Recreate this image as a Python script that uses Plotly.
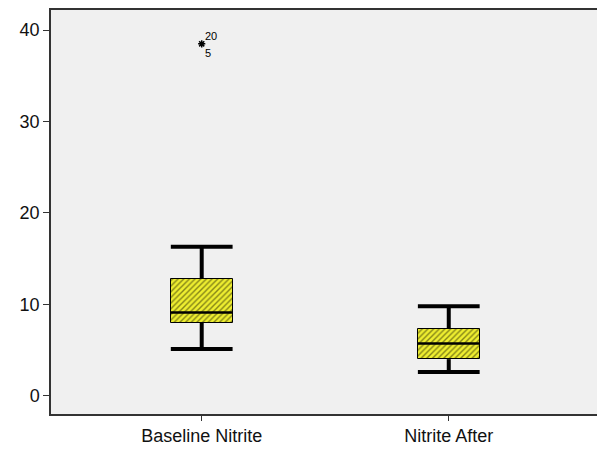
import plotly.graph_objects as go

categories = ["Baseline Nitrite", "Nitrite After"]
lower_whisker = [5.1, 2.6]
q1 = [8.0, 4.0]
median = [9.1, 5.7]
q3 = [12.8, 7.3]
upper_whisker = [16.3, 9.8]
outlier_values = [38.5]
outlier_cat_index = [0]
outlier_labels_above = ["20"]
outlier_labels_below = ["5"]
y_ticks = [0, 10, 20, 30, 40]

xpos = list(range(len(categories)))
box_w = 0.25
half = box_w / 2

fig = go.Figure()

# boxes (hatched)
fig.add_trace(go.Bar(
    x=xpos, base=q1, y=[b - a for a, b in zip(q1, q3)], width=box_w,
    marker=dict(color="#eeee30", line=dict(color="black", width=1),
                pattern=dict(shape="/", fgcolor="#1a1a00", bgcolor="#eeee30",
                             size=4, solidity=0.35)),
    showlegend=False, hoverinfo="skip"))

# whiskers and caps
wx, wy = [], []
for i, x in enumerate(xpos):
    wx += [x, x, None, x, x, None, x - half, x + half, None, x - half, x + half, None]
    wy += [q3[i], upper_whisker[i], None, q1[i], lower_whisker[i], None,
           upper_whisker[i], upper_whisker[i], None, lower_whisker[i], lower_whisker[i], None]
fig.add_trace(go.Scatter(x=wx, y=wy, mode="lines",
                         line=dict(color="black", width=4), showlegend=False, hoverinfo="skip"))

# medians
mx, my = [], []
for i, x in enumerate(xpos):
    mx += [x - half, x + half, None]
    my += [median[i], median[i], None]
fig.add_trace(go.Scatter(x=mx, y=my, mode="lines",
                         line=dict(color="black", width=2.5), showlegend=False, hoverinfo="skip"))

# outliers
ox = [xpos[i] for i in outlier_cat_index]
fig.add_trace(go.Scatter(x=ox, y=outlier_values, mode="markers",
                         marker=dict(symbol="asterisk-open", size=6, color="black",
                                     line=dict(color="black", width=1.5)),
                         showlegend=False, hoverinfo="skip"))
for x, y, a, b in zip(ox, outlier_values, outlier_labels_above, outlier_labels_below):
    fig.add_annotation(x=x, y=y, text=a, showarrow=False, xanchor="left", yanchor="bottom",
                       xshift=1, yshift=0, font=dict(size=11, color="black", family="Arial"))
    fig.add_annotation(x=x, y=y, text=b, showarrow=False, xanchor="left", yanchor="top",
                       xshift=1, yshift=-1, font=dict(size=11, color="black", family="Arial"))

fig.update_layout(
    width=597, height=449,
    margin=dict(l=51, r=0, t=10, b=35, autoexpand=False),
    paper_bgcolor="white", plot_bgcolor="#f0f0f0",
    font=dict(family="Arial", size=18, color="#111111"),
    xaxis=dict(range=[-0.61, 1.6], tickvals=xpos, ticktext=categories,
               showgrid=False, zeroline=False, showline=True, linecolor="#333333",
               linewidth=1.5, mirror=True, ticks="outside", ticklen=5,
               tickcolor="#333333", tickfont=dict(size=18, color="#111111")),
    yaxis=dict(range=[-2.0, 42.2], tickvals=y_ticks, showgrid=False, zeroline=False,
               showline=True, linecolor="#333333", linewidth=1.5, mirror=False,
               ticks="outside", ticklen=6, tickcolor="#333333",
               tickfont=dict(size=18, color="#111111")),
    bargap=0,
)

fig.write_html("out.html", config={"displayModeBar": False},
               post_script="document.body.style.margin='0';document.body.style.overflow='hidden';")
